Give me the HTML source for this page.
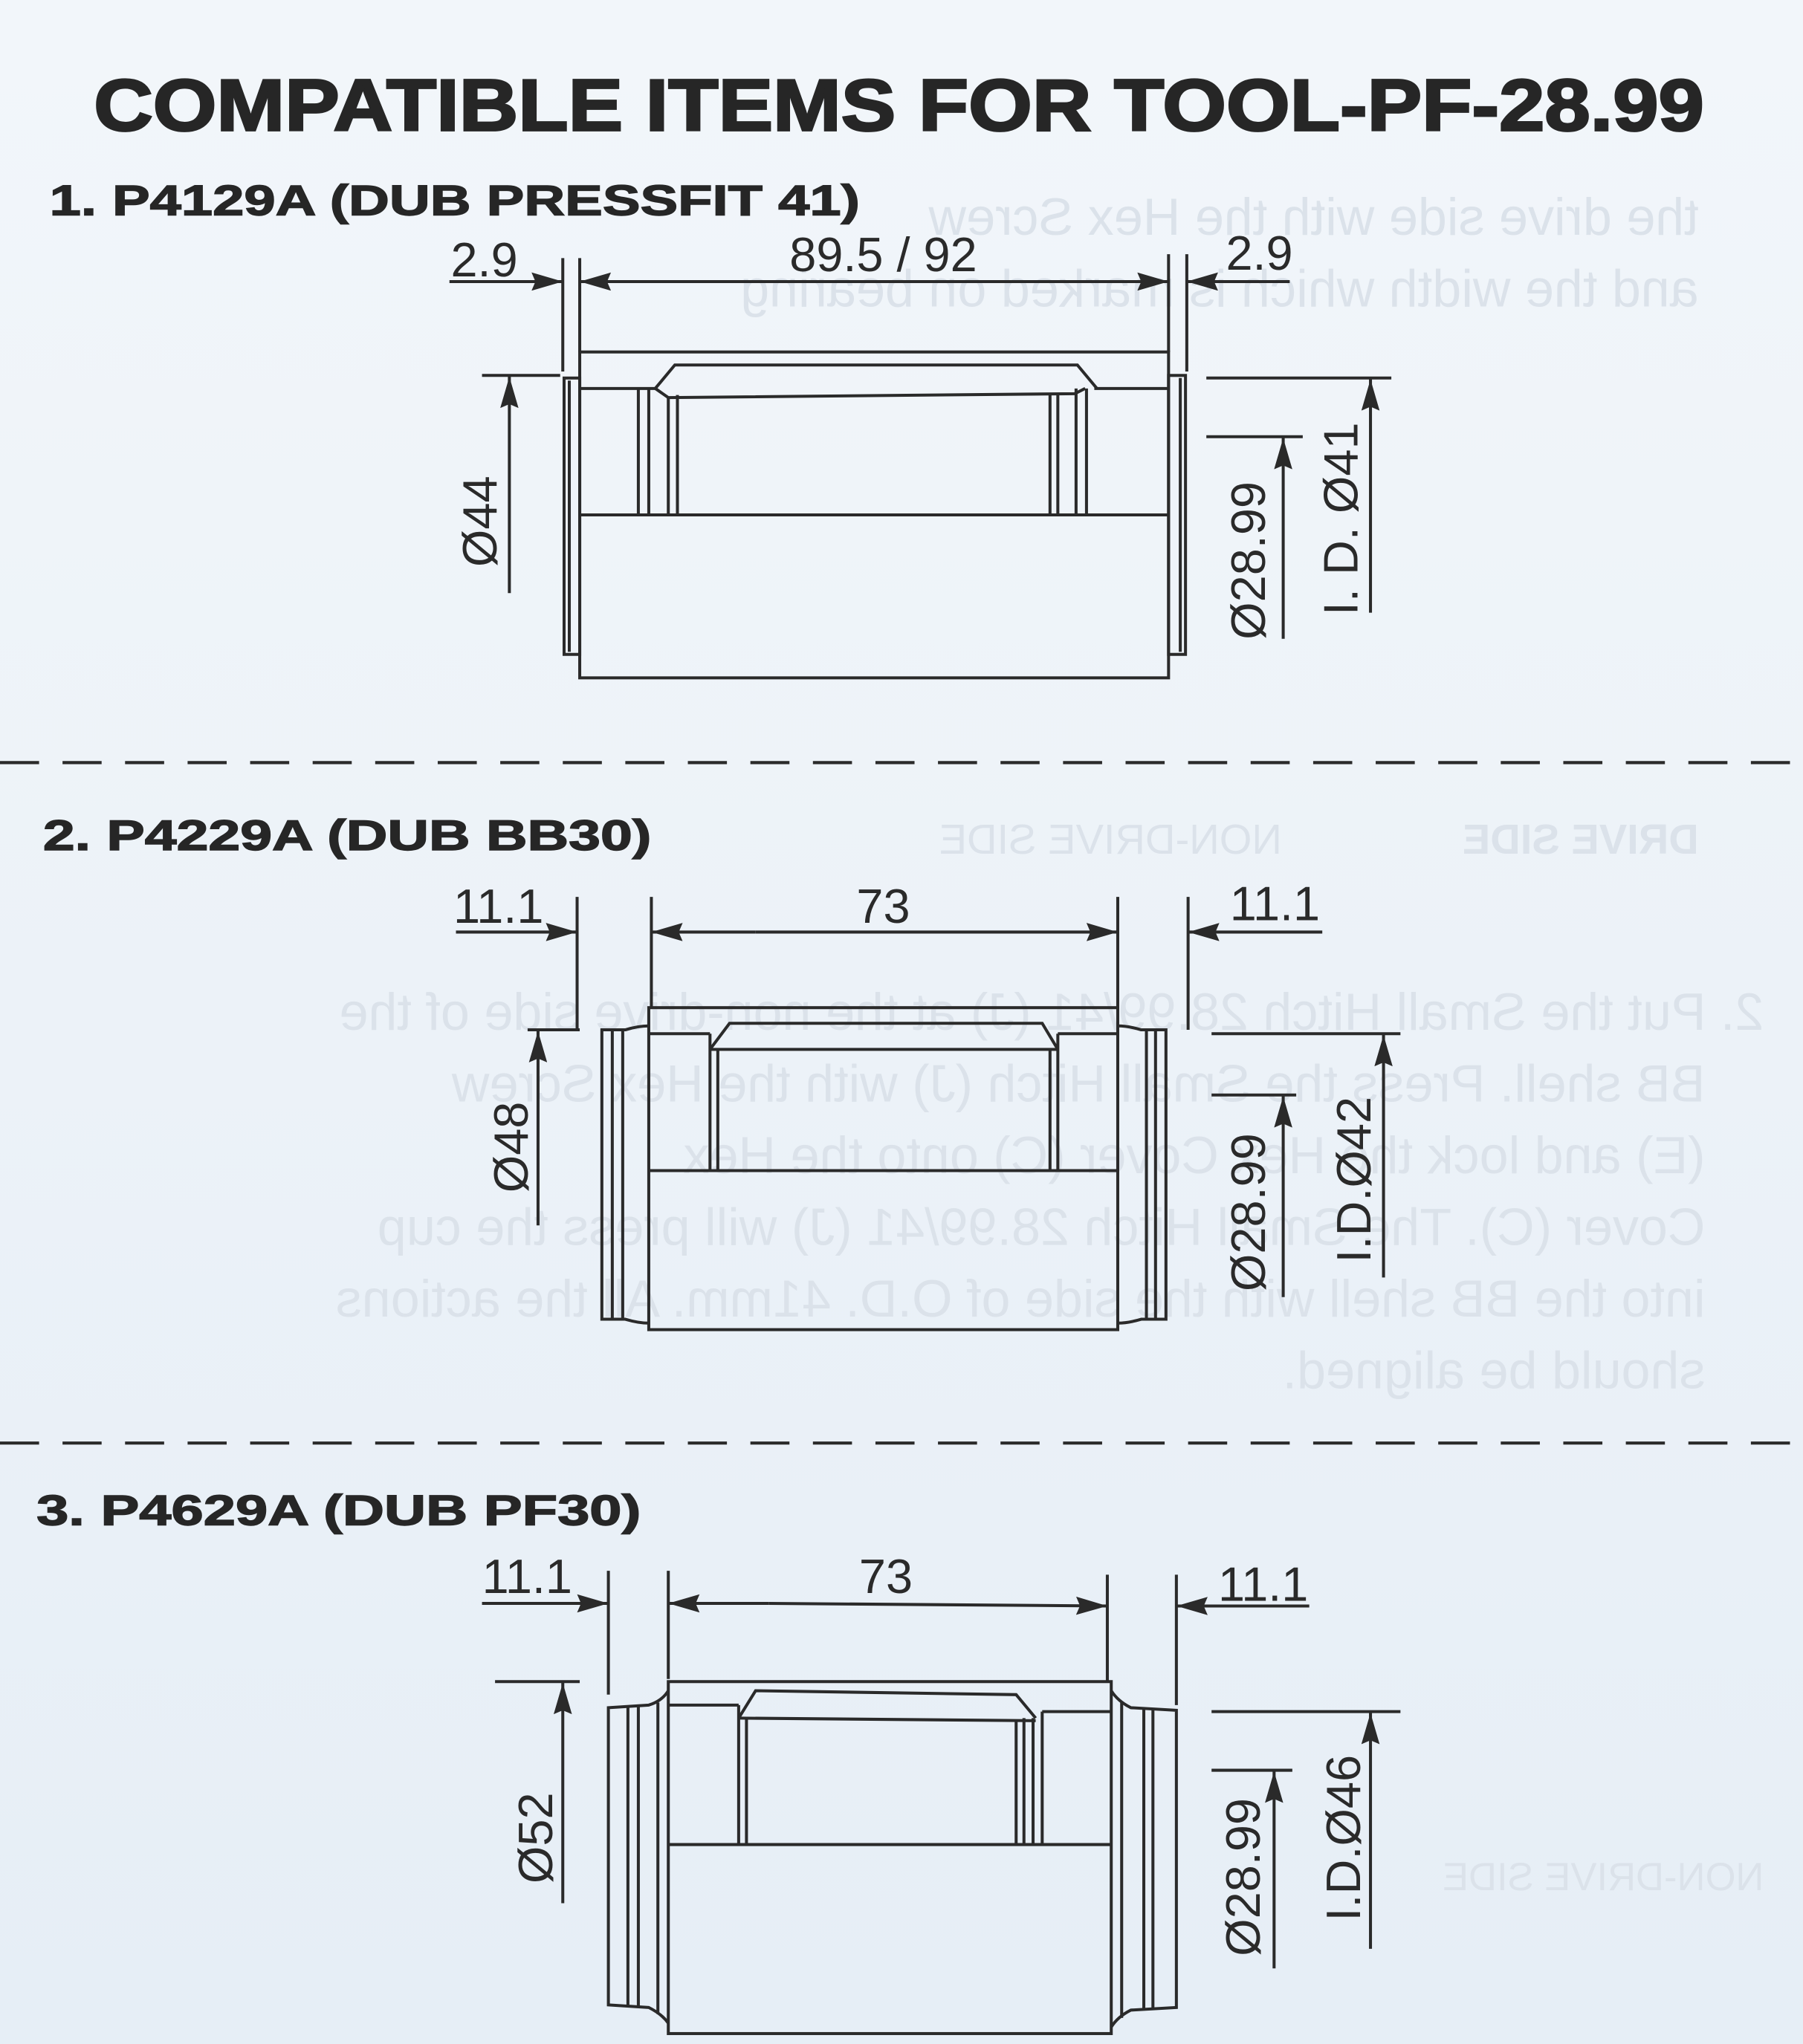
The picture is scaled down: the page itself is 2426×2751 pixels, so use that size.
<!DOCTYPE html>
<html><head><meta charset="utf-8"><style>
html,body{margin:0;padding:0;background:#eef3f8;}
svg{display:block;}
</style></head><body>
<svg width="2426" height="2751" viewBox="0 0 1384 1568" preserveAspectRatio="none" xmlns="http://www.w3.org/2000/svg">
<defs>
<linearGradient id="bg" x1="0" y1="0" x2="0" y2="1">
<stop offset="0" stop-color="#f2f6fa"/><stop offset="0.5" stop-color="#ecf2f8"/><stop offset="1" stop-color="#e6eef6"/>
</linearGradient>
<marker id="ah" markerWidth="24" markerHeight="14" refX="24" refY="7" orient="auto" markerUnits="userSpaceOnUse">
<path d="M0,0 L24,7 L0,14 L3,7 Z" fill="#2a2a2a"/>
</marker>
</defs>
<rect width="1384" height="1568" fill="url(#bg)"/>
<g font-family="Liberation Sans, sans-serif" font-size="40" fill="#dbe2ea" transform="translate(1384,0) scale(-1,1)">
<text x="80" y="180">the drive side with the Hex Screw</text>
<text x="80" y="235">and the width which is marked on bearing</text>
<text x="30" y="790">2. Put the Small Hitch 28.99/41 (J) at the non-drive side of the</text>
<text x="75" y="845">BB shell. Press the Small Hitch (J) with the Hex Screw</text>
<text x="75" y="900">(E) and lock the Hex Cover (C) onto the Hex</text>
<text x="75" y="955">Cover (C). The Small Hitch 28.99/41 (J) will press the cup</text>
<text x="75" y="1010">into the BB shell with the side of O.D. 41mm. All the actions</text>
<text x="75" y="1065">should be aligned.</text>
<text x="80" y="655" font-weight="bold" font-size="32">DRIVE SIDE</text>
<text x="400" y="655" font-size="32">NON-DRIVE SIDE</text>
<text x="30" y="1450" font-size="30">NON-DRIVE SIDE</text>
</g>
<g font-family="Liberation Sans, sans-serif" fill="#262626">
<text x="72" y="100" font-size="56" font-weight="bold" textLength="1236" lengthAdjust="spacingAndGlyphs" stroke="#262626" stroke-width="1.6">COMPATIBLE ITEMS FOR TOOL-PF-28.99</text>
<text x="38" y="165" font-size="33" font-weight="bold" textLength="622" lengthAdjust="spacingAndGlyphs" stroke="#262626" stroke-width="0.8">1. P4129A (DUB PRESSFIT 41)</text>
<text x="33" y="652" font-size="33" font-weight="bold" textLength="467" lengthAdjust="spacingAndGlyphs" stroke="#262626" stroke-width="0.8">2. P4229A (DUB BB30)</text>
<text x="28" y="1170" font-size="33" font-weight="bold" textLength="464" lengthAdjust="spacingAndGlyphs" stroke="#262626" stroke-width="0.8">3. P4629A (DUB PF30)</text>
</g>
<g stroke="#2a2a2a" stroke-width="2.4" stroke-dasharray="30,18">
<line x1="0" y1="585" x2="1384" y2="585"/>
<line x1="0" y1="1107" x2="1384" y2="1107"/>
</g>

<!-- ===== Diagram 1 ===== -->
<g stroke="#2a2a2a" stroke-width="2.3" fill="none">
<line x1="432" y1="198" x2="432" y2="285"/><line x1="445" y1="198" x2="445" y2="270"/>
<line x1="897" y1="195" x2="897" y2="270"/><line x1="911" y1="195" x2="911" y2="285"/>
<line x1="345" y1="216" x2="432" y2="216" marker-end="url(#ah)"/>
<line x1="520" y1="216" x2="445" y2="216" marker-end="url(#ah)"/>
<line x1="520" y1="216" x2="897" y2="216" marker-end="url(#ah)"/>
<line x1="990" y1="216" x2="911" y2="216" marker-end="url(#ah)"/>
<line x1="370" y1="288" x2="430" y2="288"/>
<line x1="391" y1="455" x2="391" y2="289" marker-end="url(#ah)"/>
<line x1="926" y1="290" x2="1068" y2="290"/>
<line x1="1052" y1="470" x2="1052" y2="291" marker-end="url(#ah)"/>
<line x1="926" y1="335" x2="1000" y2="335"/>
<line x1="985" y1="490" x2="985" y2="336" marker-end="url(#ah)"/>
<rect x="445" y="270" width="452" height="250"/>
<rect x="433" y="290" width="12" height="212"/><line x1="437" y1="292" x2="437" y2="500"/>
<rect x="897" y="288" width="13" height="214"/><line x1="906" y1="290" x2="906" y2="500"/>
<line x1="445" y1="395" x2="897" y2="395"/>
<line x1="445" y1="298" x2="503" y2="298"/><line x1="840" y1="298" x2="897" y2="298"/>
<path d="M503,298 L518,280 L827,280 L842,298"/>
<path d="M503,298 L513,305 L825,302 L833,298"/>
<line x1="520" y1="303" x2="520" y2="395"/><line x1="513" y1="305" x2="513" y2="395"/>
<line x1="490" y1="298" x2="490" y2="395"/><line x1="498" y1="298" x2="498" y2="395"/>
<line x1="806" y1="302" x2="806" y2="395"/><line x1="812" y1="302" x2="812" y2="395"/>
<line x1="826" y1="298" x2="826" y2="395"/><line x1="834" y1="298" x2="834" y2="395"/>
</g>
<g font-family="Liberation Sans, sans-serif" font-size="37" fill="#2a2a2a">
<text x="346" y="212">2.9</text>
<text x="678" y="208" text-anchor="middle">89.5 / 92</text>
<text x="941" y="207">2.9</text>
<text transform="translate(381,400) rotate(-90)" text-anchor="middle">Ø44</text>
<text transform="translate(971,430) rotate(-90)" text-anchor="middle">Ø28.99</text>
<text transform="translate(1042,398) rotate(-90)" text-anchor="middle">I. D. Ø41</text>
</g>

<!-- ===== Diagram 2 ===== -->
<g stroke="#2a2a2a" stroke-width="2.3" fill="none">
<line x1="443" y1="688" x2="443" y2="790"/><line x1="500" y1="688" x2="500" y2="773"/>
<line x1="858" y1="688" x2="858" y2="773"/><line x1="912" y1="688" x2="912" y2="790"/>
<line x1="350" y1="715" x2="443" y2="715" marker-end="url(#ah)"/>
<line x1="580" y1="715" x2="500" y2="715" marker-end="url(#ah)"/>
<line x1="580" y1="715" x2="858" y2="715" marker-end="url(#ah)"/>
<line x1="1015" y1="715" x2="912" y2="715" marker-end="url(#ah)"/>
<line x1="405" y1="790" x2="445" y2="790"/>
<line x1="413" y1="940" x2="413" y2="791" marker-end="url(#ah)"/>
<line x1="930" y1="793" x2="1075" y2="793"/>
<line x1="1062" y1="980" x2="1062" y2="794" marker-end="url(#ah)"/>
<line x1="930" y1="840" x2="995" y2="840"/>
<line x1="985" y1="995" x2="985" y2="841" marker-end="url(#ah)"/>
<rect x="498" y="773" width="360" height="247"/>
<path d="M498,787 Q490,787 480,790 L462,790 L462,1012 L480,1012 Q490,1015 498,1015"/>
<line x1="470" y1="791" x2="470" y2="1011"/><line x1="478" y1="791" x2="478" y2="1011"/>
<path d="M858,787 Q866,787 876,790 L895,790 L895,1012 L876,1012 Q866,1015 858,1015"/>
<line x1="880" y1="791" x2="880" y2="1011"/><line x1="887" y1="791" x2="887" y2="1011"/>
<line x1="498" y1="898" x2="858" y2="898"/>
<line x1="498" y1="793" x2="545" y2="793"/><line x1="812" y1="793" x2="858" y2="793"/>
<path d="M545,805 L560,785 L800,785 L812,805"/>
<line x1="545" y1="793" x2="545" y2="898"/><line x1="551" y1="805" x2="551" y2="898"/>
<line x1="545" y1="805" x2="812" y2="805"/>
<line x1="806" y1="805" x2="806" y2="898"/><line x1="812" y1="793" x2="812" y2="898"/>
</g>
<g font-family="Liberation Sans, sans-serif" font-size="37" fill="#2a2a2a">
<text x="348" y="708">11.1</text>
<text x="678" y="708" text-anchor="middle">73</text>
<text x="944" y="706">11.1</text>
<text transform="translate(405,880) rotate(-90)" text-anchor="middle">Ø48</text>
<text transform="translate(971,930) rotate(-90)" text-anchor="middle">Ø28.99</text>
<text transform="translate(1052,905) rotate(-90)" text-anchor="middle">I.D.Ø42</text>
</g>

<!-- ===== Diagram 3 ===== -->
<g stroke="#2a2a2a" stroke-width="2.3" fill="none">
<line x1="467" y1="1205" x2="467" y2="1300"/><line x1="513" y1="1205" x2="513" y2="1288"/>
<line x1="850" y1="1208" x2="850" y2="1290"/><line x1="903" y1="1208" x2="903" y2="1308"/>
<line x1="370" y1="1230" x2="467" y2="1230" marker-end="url(#ah)"/>
<line x1="590" y1="1230" x2="513" y2="1230" marker-end="url(#ah)"/>
<line x1="590" y1="1230" x2="850" y2="1232" marker-end="url(#ah)"/>
<line x1="1005" y1="1232" x2="903" y2="1232" marker-end="url(#ah)"/>
<line x1="380" y1="1290" x2="445" y2="1290"/>
<line x1="432" y1="1460" x2="432" y2="1291" marker-end="url(#ah)"/>
<line x1="930" y1="1313" x2="1075" y2="1313"/>
<line x1="1052" y1="1495" x2="1052" y2="1314" marker-end="url(#ah)"/>
<line x1="930" y1="1358" x2="992" y2="1358"/>
<line x1="978" y1="1510" x2="978" y2="1359" marker-end="url(#ah)"/>
<rect x="513" y="1290" width="340" height="270"/>
<path d="M513,1297 Q508,1305 498,1308 L467,1310 L467,1538 L498,1540 Q508,1545 513,1552"/>
<line x1="482" y1="1309" x2="482" y2="1539"/><line x1="490" y1="1309" x2="490" y2="1539"/><line x1="505" y1="1306" x2="505" y2="1545"/>
<path d="M853,1297 Q858,1305 868,1310 L903,1312 L903,1540 L868,1542 Q858,1547 853,1555"/>
<line x1="878" y1="1311" x2="878" y2="1541"/><line x1="885" y1="1311" x2="885" y2="1541"/><line x1="861" y1="1306" x2="861" y2="1548"/>
<line x1="513" y1="1415" x2="853" y2="1415"/>
<line x1="513" y1="1308" x2="567" y2="1308"/><line x1="800" y1="1313" x2="853" y2="1313"/>
<path d="M567,1318 L580,1297 L780,1300 L795,1318"/>
<line x1="567" y1="1308" x2="567" y2="1415"/><line x1="573" y1="1318" x2="573" y2="1415"/>
<line x1="567" y1="1318" x2="795" y2="1320"/>
<line x1="780" y1="1320" x2="780" y2="1415"/><line x1="786" y1="1318" x2="786" y2="1415"/>
<line x1="793" y1="1318" x2="793" y2="1415"/><line x1="800" y1="1313" x2="800" y2="1415"/>
</g>
<g font-family="Liberation Sans, sans-serif" font-size="37" fill="#2a2a2a">
<text x="370" y="1222">11.1</text>
<text x="680" y="1222" text-anchor="middle">73</text>
<text x="935" y="1228">11.1</text>
<text transform="translate(424,1410) rotate(-90)" text-anchor="middle">Ø52</text>
<text transform="translate(967,1440) rotate(-90)" text-anchor="middle">Ø28.99</text>
<text transform="translate(1044,1410) rotate(-90)" text-anchor="middle">I.D.Ø46</text>
</g>
</svg>
</body></html>
